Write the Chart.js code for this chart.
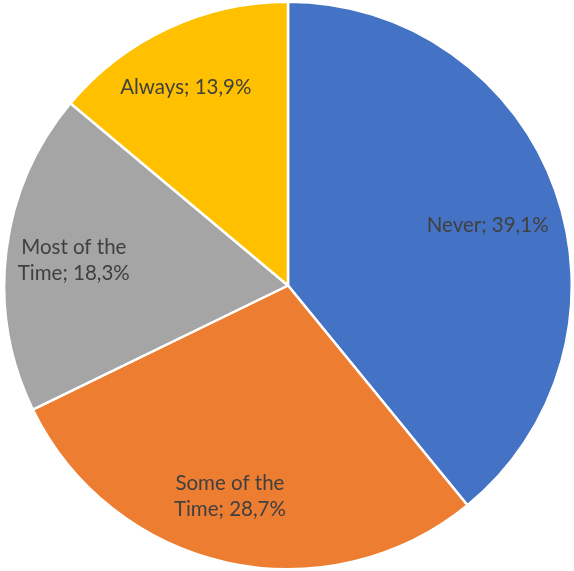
<!DOCTYPE html>
<html>
<head>
<meta charset="utf-8">
<script src="https://cdn.jsdelivr.net/npm/chart.js@4"></script>
<style>
  html, body { margin: 0; padding: 0; background: #fff; }
  #wrap { width: 574px; height: 571px; }
</style>
</head>
<body>
<div id="wrap"><canvas id="pie"></canvas></div>
<script>
// Share of answers per category (percent)
var categories = ["Never", "Some of the Time", "Most of the Time", "Always"];
var shares = [39.1, 28.7, 18.3, 13.9];
var colors = ["#4472C4", "#ED7D31", "#A5A5A5", "#FFC000"];
// label text broken into lines like the chart shows them
var labelLines = [
  ["Never; 39,1%"],
  ["Some of the", "Time; 28,7%"],
  ["Most of the", "Time; 18,3%"],
  ["Always; 13,9%"]
];
// best-fit placement: fraction of radius and small angle nudge (degrees)
var labelRadius = [0.735, 0.77, 0.76, 0.785];
var labelNudge = [2.8, 3, -0.4, -2.3];

Chart.defaults.font.family = "Lato, 'Open Sans', sans-serif";

// writes "Category; value%" inside each slice
var sliceLabels = {
  id: "sliceLabels",
  afterDatasetsDraw: function (chart) {
    var ctx = chart.ctx;
    var meta = chart.getDatasetMeta(0);
    ctx.save();
    ctx.fillStyle = "#404040";
    ctx.font = "20.5px Lato, 'Open Sans', sans-serif";
    ctx.textAlign = "center";
    ctx.textBaseline = "middle";
    meta.data.forEach(function (arc, i) {
      var p = arc.getProps(["x", "y", "startAngle", "endAngle", "outerRadius"], true);
      var mid = (p.startAngle + p.endAngle) / 2 + labelNudge[i] * Math.PI / 180;
      var r = p.outerRadius * labelRadius[i];
      var cx = p.x + Math.cos(mid) * r;
      var cy = p.y + Math.sin(mid) * r;
      var lines = labelLines[i];
      var lh = 26;
      lines.forEach(function (t, k) {
        ctx.fillText(t, cx, cy + (k - (lines.length - 1) / 2) * lh);
      });
    });
    ctx.restore();
  }
};

new Chart(document.getElementById("pie").getContext("2d"), {
  type: "pie",
  data: {
    labels: categories,
    datasets: [{
      data: shares,
      backgroundColor: colors,
      borderColor: "#ffffff",
      borderWidth: 2.5
    }]
  },
  options: {
    responsive: true,
    maintainAspectRatio: false,
    animation: false,
    layout: { padding: { left: 3, right: 1, top: 0, bottom: 0 } },
    plugins: {
      legend: { display: false },
      tooltip: { enabled: false }
    }
  },
  plugins: [sliceLabels]
});
</script>
</body>
</html>
